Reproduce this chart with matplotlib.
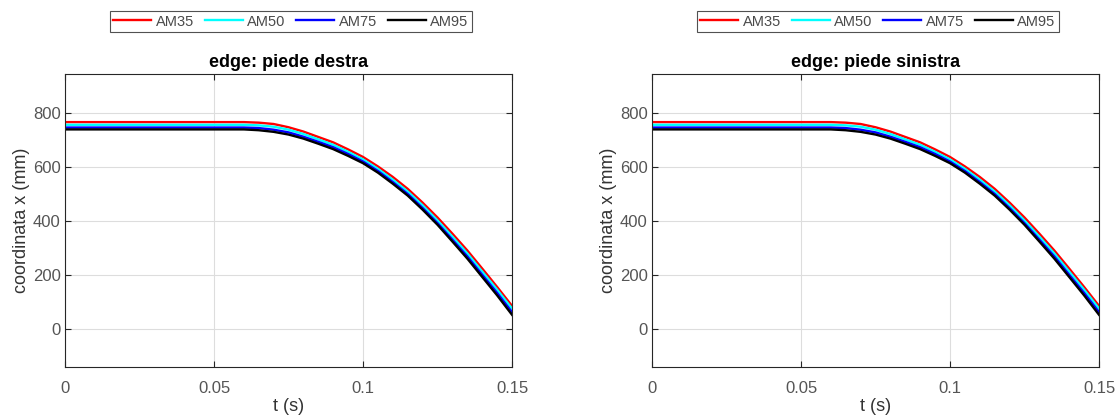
import numpy as np
import matplotlib.pyplot as plt

plt.rcParams['font.family'] = ['Liberation Sans', 'DejaVu Sans']

# tempo (s)
t = [0, 0.02, 0.04, 0.055, 0.06, 0.065, 0.07, 0.075, 0.08, 0.085, 0.09, 0.095, 0.1,
     0.105, 0.11, 0.115, 0.12, 0.125, 0.13, 0.135, 0.14, 0.145, 0.15]

# coordinata x (mm) per percentile
am35 = [765, 765, 765, 765, 765, 763, 758, 746, 730, 710, 690, 664, 636,
        601, 562, 518, 467, 412, 352, 290, 223, 155, 85]
am50 = [755, 755, 755, 755, 755, 753, 748, 737, 721, 701, 681, 655, 627,
        592, 552, 508, 457, 401, 341, 279, 212, 145, 75]
am75 = [745, 745, 745, 745, 745, 743, 737, 727, 711, 692, 672, 647, 619,
        584, 543, 499, 447, 391, 330, 268, 200, 133, 62]
am95 = [738, 738, 738, 738, 738, 735, 729, 719, 704, 685, 665, 640, 613,
        578, 537, 493, 441, 385, 323, 260, 192, 124, 52]

labels = ['AM35', 'AM50', 'AM75', 'AM95']
colors = ['#ff0000', '#00ffff', '#0000ff', '#000000']
titles = ['edge: piede destra', 'edge: piede sinistra']
xticks = [0, 0.05, 0.1, 0.15]
xticklabels = ['0', '0.05', '0.1', '0.15']
yticks = [0, 200, 400, 600, 800]

fig = plt.figure(figsize=(11.17, 4.16), dpi=100)
lefts = [0.0582, 0.5837]

for i in range(2):
    ax = fig.add_axes([lefts[i], 0.1185, 0.4002, 0.7036])
    lines = []
    for y, lab, c in zip([am35, am50, am75, am95], labels, colors):
        l, = ax.plot(t, y, color=c, lw=1.7, label=lab)
        lines.append(l)
    ax.set_xlim(0, 0.15)
    ax.set_ylim(-140, 943)
    ax.set_xticks(xticks)
    ax.set_xticklabels(xticklabels)
    ax.set_yticks(yticks)
    ax.grid(True, color='#dddddd', lw=0.8)
    ax.set_axisbelow(True)
    ax.tick_params(direction='in', top=True, right=True, labelsize=12,
                   colors='#262626', labelcolor='#555555', length=4)
    ax.tick_params(axis='x', pad=10)
    ax.tick_params(axis='y', pad=3)
    for s in ax.spines.values():
        s.set_color('#262626')
        s.set_linewidth(0.8)
    ax.set_xlabel('t (s)', fontsize=13, color='#333333', labelpad=2)
    ax.set_ylabel('coordinata x (mm)', fontsize=13, color='#333333', labelpad=2)
    ax.set_title(titles[i], fontsize=13, fontweight='bold', color='#000000', pad=5)
    leg = ax.legend(handles=lines, loc='lower center', bbox_to_anchor=(0.505, 1.143),
                    ncol=4, fontsize=10.5, frameon=True, fancybox=False,
                    handlelength=2.6, handletextpad=0.3, columnspacing=0.75,
                    borderpad=0.25, borderaxespad=0)
    leg.get_frame().set_edgecolor('#262626')
    leg.get_frame().set_linewidth(0.8)
    for txt in leg.get_texts():
        txt.set_color('#4a4a4a')

fig.savefig('out.png', dpi=100, facecolor='white')
